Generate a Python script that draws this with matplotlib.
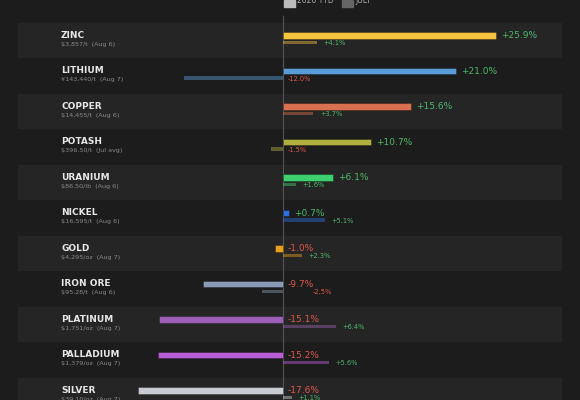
import matplotlib
matplotlib.use("Agg")
import matplotlib.pyplot as plt
from matplotlib.transforms import blended_transform_factory as btf

names = ["ZINC","LITHIUM","COPPER","POTASH","URANIUM","NICKEL","GOLD","IRON ORE","PLATINUM","PALLADIUM","SILVER"]
subs = ["$3,857/t  (Aug 6)","¥143,440/t  (Aug 7)","$14,455/t  (Aug 6)","$396.50/t  (Jul avg)","$86.50/lb  (Aug 6)",
        "$16,595/t  (Aug 6)","$4,295/oz  (Aug 7)","$95.28/t  (Aug 6)","$1,751/oz  (Aug 7)","$1,379/oz  (Aug 7)","$39.10/oz  (Aug 7)"]
ytd = [25.9,21.0,15.6,10.7,6.1,0.7,-1.0,-9.7,-15.1,-15.2,-17.6]
july = [4.1,-12.0,3.7,-1.5,1.6,5.1,2.3,-2.5,6.4,5.6,1.1]
colors = ["#f5c242","#5b9bd5","#d9704f","#b0b040","#3ecf6e","#2e6fdf","#e8a020","#8a9bb5","#9b5fb5","#b85fd5","#c8ccd2"]

BG="#1c1c1c"; BAND="#252525"; GREEN="#4cb86a"; RED="#e0584a"
fig = plt.figure(figsize=(5.8,4), dpi=100, facecolor=BG)
ax = fig.add_axes([0,0,1,1], facecolor=BG)
ax.set_xlim(-34.4,36.1); ax.set_ylim(10.14,-1.127); ax.axis("off")
tr = btf(ax.transAxes, ax.transData)
for i in range(len(names)):
    if i%2==0:
        ax.axhspan(i-0.48,i+0.48,xmin=18/580,xmax=561/580,color=BAND,zorder=0)
    ax.barh(i-0.127, ytd[i], height=0.19, color=colors[i], edgecolor="#00000055", linewidth=0.6, zorder=3)
    ax.barh(i+0.07, july[i], height=0.085, color=colors[i], alpha=0.45, zorder=3)
    v=ytd[i]
    ax.text(max(v,0)+0.6, i-0.127, f"{v:+.1f}%", color=GREEN if v>0 else RED, fontsize=6.5, va="center", zorder=4)
    j=july[i]
    jx = j+0.8 if j>0 else (3.6 if names[i]=="IRON ORE" else 0.6)
    ax.text(jx, i+0.09, f"{j:+.1f}%", color=GREEN if j>0 else RED, fontsize=4.8, va="center", zorder=4)
    ax.text(61/580, i-0.14, names[i], transform=tr, color="#e8e8e8", fontsize=6.5, va="center", fontweight="bold")
    ax.text(61/580, i+0.12, subs[i], transform=tr, color="#8a8a8a", fontsize=4.6, va="center")
ax.plot([0,0],[-0.676,10.2],color="#555555",lw=0.8,zorder=2)
# legend
ax.add_patch(plt.Rectangle((0.1,-1.12),1.3,0.2,color="#bbbbbb",clip_on=False))
ax.text(1.7,-1.11,"2026 YTD",color="#aaaaaa",fontsize=5.5,va="center")
ax.add_patch(plt.Rectangle((7.2,-1.12),1.3,0.2,color="#666666",clip_on=False))
ax.text(8.8,-1.11,"JULY",color="#aaaaaa",fontsize=5.5,va="center")
fig.savefig("out.png", dpi=100, facecolor=BG)
